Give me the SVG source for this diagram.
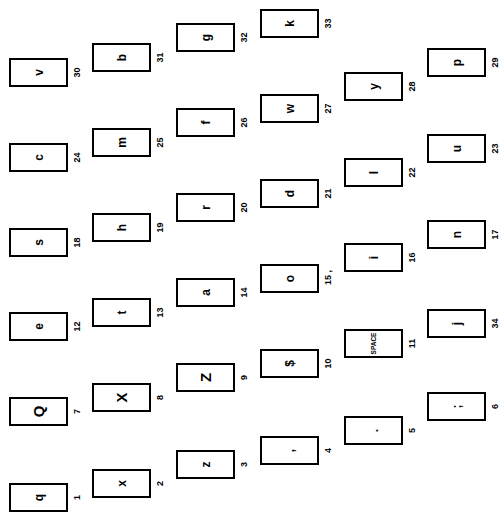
<svg xmlns="http://www.w3.org/2000/svg" width="504" height="514" viewBox="0 0 504 514">
<style>
.k rect{fill:#fff;stroke:#000;stroke-width:2}
.c{font-family:"Liberation Sans",Arial,sans-serif;font-weight:bold;font-size:12px;text-anchor:middle;fill:#000}
.C{font-family:"Liberation Sans",Arial,sans-serif;font-weight:bold;font-size:15px;text-anchor:middle;fill:#000}
.sp{font-family:"Liberation Sans",Arial,sans-serif;font-weight:bold;font-size:6.5px;text-anchor:middle;fill:#000}
.n{font-family:"Liberation Sans",Arial,sans-serif;font-weight:bold;font-size:9px;text-anchor:middle;fill:#000}
</style>
<rect width="504" height="514" fill="#fff"/>
<g id="connectors"/>
<!-- Column 1 -->
<g id="key30" class="k"><rect x="10" y="59" width="57" height="27"/><text class="c" transform="translate(38.5,72.5) rotate(-90)" y="4">v</text><text class="n" transform="translate(67,72.5) rotate(-90)" y="13">30</text></g>
<g id="key24" class="k"><rect x="10" y="144" width="57" height="27"/><text class="c" transform="translate(38.5,157.5) rotate(-90)" y="4">c</text><text class="n" transform="translate(67,157.5) rotate(-90)" y="13">24</text></g>
<g id="key18" class="k"><rect x="10" y="229" width="57" height="27"/><text class="c" transform="translate(38.5,242.5) rotate(-90)" y="4">s</text><text class="n" transform="translate(67,242.5) rotate(-90)" y="13">18</text></g>
<g id="key12" class="k"><rect x="10" y="313" width="57" height="27"/><text class="c" transform="translate(38.5,326.5) rotate(-90)" y="4">e</text><text class="n" transform="translate(67,326.5) rotate(-90)" y="13">12</text></g>
<g id="key7" class="k"><rect x="10" y="398" width="57" height="27"/><text class="C" transform="translate(38.5,411.5) rotate(-90)" y="5.5">Q</text><text class="n" transform="translate(67,411.5) rotate(-90)" y="13">7</text></g>
<g id="key1" class="k"><rect x="10" y="484" width="57" height="27"/><text class="c" transform="translate(38.5,497.5) rotate(-90)" y="4">q</text><text class="n" transform="translate(67,497.5) rotate(-90)" y="13">1</text></g>
<!-- Column 2 -->
<g id="key31" class="k"><rect x="93" y="44" width="57" height="27"/><text class="c" transform="translate(121.5,57.5) rotate(-90)" y="4">b</text><text class="n" transform="translate(150,57.5) rotate(-90)" y="13">31</text></g>
<g id="key25" class="k"><rect x="93" y="129" width="57" height="27"/><text class="c" transform="translate(121.5,142.5) rotate(-90)" y="4">m</text><text class="n" transform="translate(150,142.5) rotate(-90)" y="13">25</text></g>
<g id="key19" class="k"><rect x="93" y="214" width="57" height="27"/><text class="c" transform="translate(121.5,227.5) rotate(-90)" y="4">h</text><text class="n" transform="translate(150,227.5) rotate(-90)" y="13">19</text></g>
<g id="key13" class="k"><rect x="93" y="299" width="57" height="27"/><text class="c" transform="translate(121.5,312.5) rotate(-90)" y="4">t</text><text class="n" transform="translate(150,312.5) rotate(-90)" y="13">13</text></g>
<g id="key8" class="k"><rect x="93" y="384" width="57" height="27"/><text class="C" transform="translate(121.5,397.5) rotate(-90)" y="5.5">X</text><text class="n" transform="translate(150,397.5) rotate(-90)" y="13">8</text></g>
<g id="key2" class="k"><rect x="93" y="470" width="57" height="27"/><text class="c" transform="translate(121.5,483.5) rotate(-90)" y="4">x</text><text class="n" transform="translate(150,483.5) rotate(-90)" y="13">2</text></g>
<!-- Column 3 -->
<g id="key32" class="k"><rect x="177" y="24" width="57" height="27"/><text class="c" transform="translate(205.5,37.5) rotate(-90)" y="4">g</text><text class="n" transform="translate(234,37.5) rotate(-90)" y="13">32</text></g>
<g id="key26" class="k"><rect x="177" y="109" width="57" height="27"/><text class="c" transform="translate(205.5,122.5) rotate(-90)" y="4">f</text><text class="n" transform="translate(234,122.5) rotate(-90)" y="13">26</text></g>
<g id="key20" class="k"><rect x="177" y="194" width="57" height="27"/><text class="c" transform="translate(205.5,207.5) rotate(-90)" y="4">r</text><text class="n" transform="translate(234,207.5) rotate(-90)" y="13">20</text></g>
<g id="key14" class="k"><rect x="177" y="279" width="57" height="27"/><text class="c" transform="translate(205.5,292.5) rotate(-90)" y="4">a</text><text class="n" transform="translate(234,292.5) rotate(-90)" y="13">14</text></g>
<g id="key9" class="k"><rect x="177" y="364" width="57" height="27"/><text class="C" transform="translate(205.5,377.5) rotate(-90)" y="5.5">Z</text><text class="n" transform="translate(234,377.5) rotate(-90)" y="13">9</text></g>
<g id="key3" class="k"><rect x="177" y="451" width="57" height="27"/><text class="c" transform="translate(205.5,464.5) rotate(-90)" y="4">z</text><text class="n" transform="translate(234,464.5) rotate(-90)" y="13">3</text></g>
<!-- Column 4 -->
<g id="key33" class="k"><rect x="261" y="10" width="57" height="27"/><text class="c" transform="translate(289.5,23.5) rotate(-90)" y="4">k</text><text class="n" transform="translate(318,23.5) rotate(-90)" y="13">33</text></g>
<g id="key27" class="k"><rect x="261" y="95" width="57" height="27"/><text class="c" transform="translate(289.5,108.5) rotate(-90)" y="4">w</text><text class="n" transform="translate(318,108.5) rotate(-90)" y="13">27</text></g>
<g id="key21" class="k"><rect x="261" y="180" width="57" height="27"/><text class="c" transform="translate(289.5,193.5) rotate(-90)" y="4">d</text><text class="n" transform="translate(318,193.5) rotate(-90)" y="13">21</text></g>
<g id="key15" class="k"><rect x="261" y="265" width="57" height="27"/><text class="c" transform="translate(289.5,278.5) rotate(-90)" y="4">o</text><text class="n" transform="translate(318,285) rotate(-90)" y="13" style="text-anchor:start">15 ,</text></g>
<g id="key10" class="k"><rect x="261" y="350" width="57" height="27"/><text class="c" transform="translate(289.5,363.5) rotate(-90)" y="4">$</text><text class="n" transform="translate(318,363.5) rotate(-90)" y="13">10</text></g>
<g id="key4" class="k"><rect x="261" y="437" width="57" height="27"/><text class="c" transform="translate(289.5,450.5) rotate(-90)" y="4">,</text><text class="n" transform="translate(318,450.5) rotate(-90)" y="13">4</text></g>
<!-- Column 5 -->
<g id="key28" class="k"><rect x="345" y="73" width="57" height="27"/><text class="c" transform="translate(373.5,86.5) rotate(-90)" y="4">y</text><text class="n" transform="translate(402,86.5) rotate(-90)" y="13">28</text></g>
<g id="key22" class="k"><rect x="345" y="159" width="57" height="27"/><text class="c" transform="translate(373.5,172.5) rotate(-90)" y="4">l</text><text class="n" transform="translate(402,172.5) rotate(-90)" y="13">22</text></g>
<g id="key16" class="k"><rect x="345" y="244" width="57" height="27"/><text class="c" transform="translate(373.5,257.5) rotate(-90)" y="4">i</text><text class="n" transform="translate(402,257.5) rotate(-90)" y="13">16</text></g>
<g id="key11" class="k"><rect x="345" y="330" width="57" height="27"/><text class="sp" transform="translate(373.5,343.5) rotate(-90)" y="2.5">SPACE</text><text class="n" transform="translate(402,343.5) rotate(-90)" y="13">11</text></g>
<g id="key5" class="k"><rect x="345" y="417" width="57" height="27"/><text class="c" transform="translate(373.5,430.5) rotate(-90)" y="4">.</text><text class="n" transform="translate(402,430.5) rotate(-90)" y="13">5</text></g>
<!-- Column 6 -->
<g id="key29" class="k"><rect x="428" y="49" width="57" height="27"/><text class="c" transform="translate(456.5,62.5) rotate(-90)" y="4">p</text><text class="n" transform="translate(485,62.5) rotate(-90)" y="13">29</text></g>
<g id="key23" class="k"><rect x="428" y="135" width="57" height="27"/><text class="c" transform="translate(456.5,148.5) rotate(-90)" y="4">u</text><text class="n" transform="translate(485,148.5) rotate(-90)" y="13">23</text></g>
<g id="key17" class="k"><rect x="428" y="221" width="57" height="27"/><text class="c" transform="translate(456.5,234.5) rotate(-90)" y="4">n</text><text class="n" transform="translate(485,234.5) rotate(-90)" y="13">17</text></g>
<g id="key34" class="k"><rect x="428" y="310" width="57" height="27"/><text class="c" transform="translate(456.5,323.5) rotate(-90)" y="4">j</text><text class="n" transform="translate(485,323.5) rotate(-90)" y="13">34</text></g>
<g id="key6" class="k"><rect x="428" y="393" width="57" height="27"/><text class="c" transform="translate(456.5,406.5) rotate(-90)" y="4">;</text><text class="n" transform="translate(485,406.5) rotate(-90)" y="13">6</text></g>
</svg>
